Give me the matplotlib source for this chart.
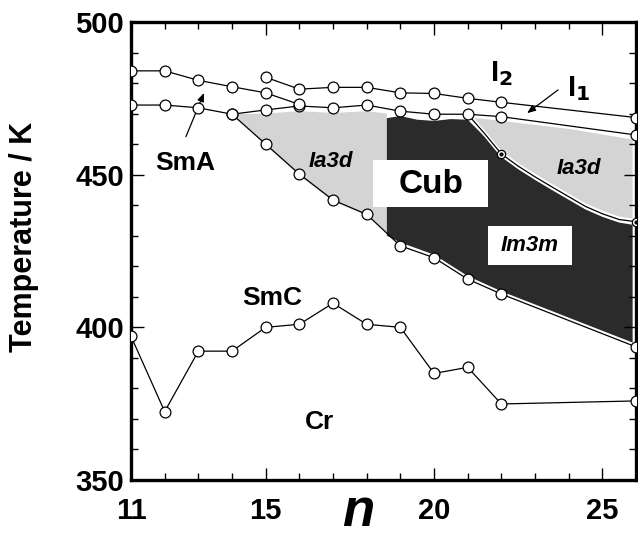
import numpy as np
import matplotlib
matplotlib.use("Agg")
import matplotlib.pyplot as plt
from matplotlib.patches import Polygon, Rectangle
import matplotlib.patheffects as pe

plt.rcParams["font.family"] = ["Liberation Sans", "DejaVu Sans"]
plt.rcParams["font.weight"] = "bold"

# ---- data ----
# SmA -> I clearing line (n = 11..16)
n_sma = [11, 12, 13, 14, 15, 16]
t_sma = [484.0, 484.0, 480.9, 478.8, 476.8, 473.0]

# SmC -> SmA / Cub -> I1 line
n_i1 = [11, 12, 13, 14, 15, 16, 17, 18, 19, 20, 21, 22, 26]
t_i1 = [472.8, 472.8, 471.9, 469.8, 471.2, 472.5, 471.9, 472.8, 470.8, 469.8, 469.8, 469.0, 463.0]

# I1 -> I2 line
n_i2 = [15, 16, 17, 18, 19, 20, 21, 22, 26]
t_i2 = [481.9, 478.0, 478.6, 478.6, 476.8, 476.6, 475.0, 473.7, 468.7]

# SmC -> Cub line
n_cub = [14, 15, 16, 17, 18, 19, 20, 21, 22, 26]
t_cub = [469.8, 460.0, 450.2, 441.7, 437.0, 426.7, 422.8, 415.8, 410.9, 393.6]

# Cr -> SmC line
n_cr = [11, 12, 13, 14, 15, 16, 17, 18, 19, 20, 21, 22, 26]
t_cr = [397.1, 372.4, 392.2, 392.2, 400.0, 401.0, 407.9, 401.0, 400.0, 384.9, 386.9, 374.9, 375.9]

# Ia3d / Im3m boundary curve
n_curve = [21, 21.5, 22, 22.5, 23, 23.5, 24, 24.5, 25, 25.5, 26]
t_curve = [469.8, 463.5, 456.8, 452.8, 449.3, 446.0, 442.8, 439.6, 437.2, 435.3, 434.6]
n_curve_pts = [22, 26]
t_curve_pts = [456.8, 434.6]

# shaded phase regions (outline vertices)
ia3d_left = [(14, 469.8), (15, 470.0), (16, 470.8), (17, 470.2), (18, 470.8), (18.6, 470.0),
             (18.6, 431.0), (18, 436.6), (17, 441.3), (16, 449.8), (15, 459.6)]
im3m = [(18.6, 468.5), (19.0, 469.2), (19.5, 468.0), (20.0, 467.6), (20.5, 468.2), (21.0, 468.0),
        (21.5, 462.5), (22, 455.8), (22.5, 451.8), (23, 448.3), (23.5, 445.0), (24, 441.8),
        (24.5, 438.6), (25, 436.2), (25.5, 434.3), (25.9, 433.6), (25.9, 395.0), (22, 411.8),
        (21, 416.8), (20, 423.8), (19, 427.8), (18.6, 430.0)]
ia3d_right = [(21.2, 468.6), (22, 467.6), (24, 465.0), (25.9, 461.5), (25.9, 435.6), (25.5, 436.3),
              (25, 438.2), (24.5, 440.6), (24, 443.8), (23.5, 447.0), (23, 450.3), (22.5, 453.8),
              (22, 457.8), (21.5, 464.0)]

fig = plt.figure(figsize=(6.38, 5.38), dpi=100)
ax = fig.add_axes([131 / 638, 58 / 538, 505 / 638, 458 / 538])

ax.add_patch(Polygon(ia3d_left, closed=True, fc="#d4d4d4", ec="none", zorder=1))
ax.add_patch(Polygon(ia3d_right, closed=True, fc="#d4d4d4", ec="none", zorder=1))
ax.add_patch(Polygon(im3m, closed=True, fc="#2b2b2b", ec="none", zorder=1))

# white label boxes
ax.add_patch(Rectangle((18.2, 439.5), 3.4, 15.3, fc="white", ec="none", zorder=2))
ax.add_patch(Rectangle((21.6, 420.4), 2.5, 12.8, fc="white", ec="none", zorder=2))

halo = [pe.Stroke(linewidth=3, foreground="white"), pe.Normal()]
mk = dict(marker="o", ms=7.8, mfc="white", mec="black", mew=0.9, color="black", lw=0.9, zorder=4)

ax.plot(n_curve, t_curve, color="black", lw=0.9, zorder=3, path_effects=halo)
ax.plot(n_curve_pts, t_curve_pts, ls="none", marker="o", ms=6, mfc="white", mec="black", mew=0.9, zorder=5)
ax.plot(n_curve_pts, t_curve_pts, ls="none", marker="o", ms=2, mfc="black", mec="black", zorder=6)

for xs, ys in [(n_cr, t_cr), (n_cub, t_cub), (n_i1, t_i1), (n_sma, t_sma), (n_i2, t_i2)]:
    ax.plot(xs, ys, **mk)

# phase labels
ax.text(22.0, 483.0, r"I$_\mathbf{2}$", fontsize=21, ha="center", va="center", fontweight="bold")
ax.text(24.3, 478.3, r"I$_\mathbf{1}$", fontsize=21, ha="center", va="center", fontweight="bold")
ax.annotate("", xy=(22.7, 469.6), xytext=(23.75, 478.3),
            arrowprops=dict(arrowstyle="-|>,head_length=0.5,head_width=0.2", lw=0.9, color="black"))
ax.text(12.6, 453.8, "SmA", fontsize=19, ha="center", va="center", fontweight="bold")
ax.annotate("", xy=(13.2, 477.6), xytext=(12.6, 461.6),
            arrowprops=dict(arrowstyle="-|>,head_length=0.5,head_width=0.2", lw=0.9, color="black"))
ax.text(15.2, 409.5, "SmC", fontsize=19, ha="center", va="center", fontweight="bold")
ax.text(16.6, 369.1, "Cr", fontsize=19, ha="center", va="center", fontweight="bold")
ax.text(16.95, 454.2, "Ia3d", fontsize=16, ha="center", va="center", fontweight="bold", style="italic")
ax.text(24.3, 452.0, "Ia3d", fontsize=16, ha="center", va="center", fontweight="bold", style="italic")
ax.text(19.9, 446.8, "Cub", fontsize=24, ha="center", va="center", fontweight="bold", zorder=3)
ax.text(22.85, 426.8, "Im3m", fontsize=16, ha="center", va="center", fontweight="bold",
        style="italic", zorder=3)

ax.set_xlim(11, 26)
ax.set_ylim(350, 500)
ax.set_xticks([11, 15, 20, 25])
ax.set_xticks(np.arange(11, 27, 1), minor=True)
ax.set_yticks([350, 400, 450, 500])
ax.set_yticks(np.arange(350, 501, 10), minor=True)
ax.tick_params(which="both", direction="in", top=True, right=True, width=1.0)
ax.tick_params(which="major", length=9, labelsize=21, pad=5)
ax.tick_params(which="minor", length=5)
ax.tick_params(axis="x", which="major", pad=12)
for lab in ax.get_xticklabels() + ax.get_yticklabels():
    lab.set_fontweight("bold")
for sp in ax.spines.values():
    sp.set_linewidth(2.4)

fig.text(24 / 638, 1 - 237 / 538, "Temperature / K", rotation=90, fontsize=22,
         fontweight="bold", ha="center", va="center")
fig.text(358 / 638, 0.002, "n", fontsize=38, fontweight="bold", style="italic",
         ha="center", va="bottom")

fig.savefig("out.png", dpi=100)
